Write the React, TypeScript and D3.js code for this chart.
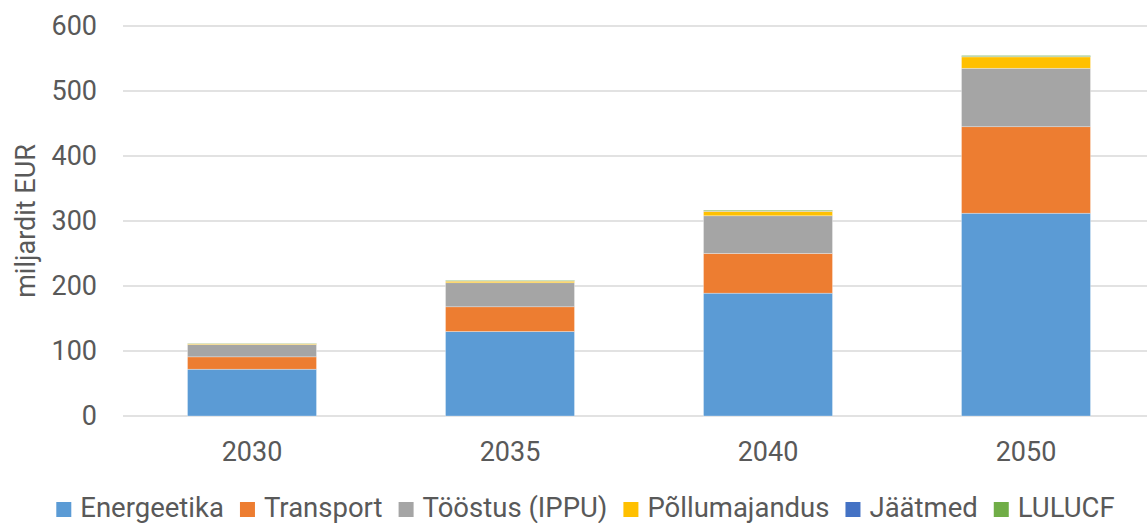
import { useEffect, useRef } from "react";
import * as d3 from "d3";

const years = ["2030", "2035", "2040", "2050"];
const sectors = ["Energeetika", "Transport", "Tööstus (IPPU)", "Põllumajandus", "Jäätmed", "LULUCF"];
const colors = ["#5b9bd5", "#ed7d31", "#a5a5a5", "#ffc000", "#4472c4", "#70ad47"];

const energeetika = [72, 130, 189, 312];
const transport = [19, 38, 61, 133];
const toostus = [19, 37, 58, 90];
const pollumajandus = [1.3, 2.5, 7, 17.5];
const jaatmed = [0.2, 0.3, 0.4, 0.5];
const lulucf = [0.4, 1, 1.3, 1.6];

const yTicks = [0, 100, 200, 300, 400, 500, 600];

const W = 1147;
const H = 523;
// plot area runs a little past the right edge, as in the source picture
const plot = { left: 123, right: 1155, top: 26, bottom: 416 };
const font = "Roboto, sans-serif";
const textColor = "#595959";

const drawChart = (svgEl: SVGSVGElement) => {
  const svg = d3.select(svgEl);
  svg.selectAll("*").remove();

  const rows = years.map((year, i) => ({
    year,
    Energeetika: energeetika[i],
    Transport: transport[i],
    "Tööstus (IPPU)": toostus[i],
    Põllumajandus: pollumajandus[i],
    Jäätmed: jaatmed[i],
    LULUCF: lulucf[i],
  }));

  const stacked = d3.stack<any>().keys(sectors)(rows);

  const x = d3
    .scaleBand()
    .domain(years)
    .range([plot.left, plot.right])
    .paddingInner(0.5)
    .paddingOuter(0.25);
  const y = d3.scaleLinear().domain([0, 600]).range([plot.bottom, plot.top]);

  // gridlines
  svg
    .append("g")
    .selectAll("line")
    .data(yTicks)
    .enter()
    .append("line")
    .attr("x1", plot.left)
    .attr("x2", W)
    .attr("y1", (d) => y(d))
    .attr("y2", (d) => y(d))
    .style("stroke", "#d9d9d9")
    .style("stroke-width", 1.5);

  // y tick labels
  svg
    .append("g")
    .selectAll("text")
    .data(yTicks)
    .enter()
    .append("text")
    .attr("x", 97)
    .attr("y", (d) => y(d))
    .attr("dy", "0.35em")
    .attr("text-anchor", "end")
    .style("font-family", font)
    .style("font-size", "27px")
    .style("fill", textColor)
    .text((d) => d);

  // bars
  svg
    .append("g")
    .selectAll("g")
    .data(stacked)
    .enter()
    .append("g")
    .style("fill", (_d, i) => colors[i])
    .selectAll("rect")
    .data((d) => d)
    .enter()
    .append("rect")
    .attr("x", (d) => x(d.data.year)!)
    .attr("width", x.bandwidth())
    .attr("y", (d) => y(d[1]))
    .attr("height", (d) => Math.max(0, y(d[0]) - y(d[1])))
    .style("stroke", "#ffffff")
    .style("stroke-opacity", 0.5)
    .style("stroke-width", 0.6);

  // x labels
  svg
    .append("g")
    .selectAll("text")
    .data(years)
    .enter()
    .append("text")
    .attr("x", (d) => x(d)! + x.bandwidth() / 2)
    .attr("y", 461)
    .attr("text-anchor", "middle")
    .style("font-family", font)
    .style("font-size", "27px")
    .style("fill", textColor)
    .text((d) => d);

  // y axis title
  svg
    .append("text")
    .attr("transform", `translate(35, ${(y(0) + y(600)) / 2}) rotate(-90)`)
    .attr("text-anchor", "middle")
    .style("font-family", font)
    .style("font-size", "27px")
    .style("fill", textColor)
    .text("miljardit EUR");

  // legend
  const legend = svg.append("g");
  const sq = 15;
  const gap = 9;
  const itemGap = 16;
  let cursor = 0;
  sectors.forEach((name, i) => {
    const item = legend.append("g").attr("transform", `translate(${cursor},0)`);
    item
      .append("rect")
      .attr("x", 0)
      .attr("y", -sq)
      .attr("width", sq)
      .attr("height", sq)
      .style("fill", colors[i]);
    const t = item
      .append("text")
      .attr("x", sq + gap)
      .attr("y", 0)
      .style("font-family", font)
      .style("font-size", "27.5px")
      .style("fill", textColor)
      .text(name);
    const len = (t.node() as SVGTextElement).getComputedTextLength();
    cursor += sq + gap + len + itemGap;
  });
  const total = cursor - itemGap;
  legend.attr("transform", `translate(${585.5 - total / 2},517)`);
};

const App = () => {
  const svgRef = useRef<SVGSVGElement>(null);

  useEffect(() => {
    if (svgRef.current) drawChart(svgRef.current);
  }, []);

  return (
    <svg
      ref={svgRef}
      width={W}
      height={H}
      style={{ position: "absolute", left: 0, top: 0, background: "#ffffff" }}
    ></svg>
  );
};

export default App;
